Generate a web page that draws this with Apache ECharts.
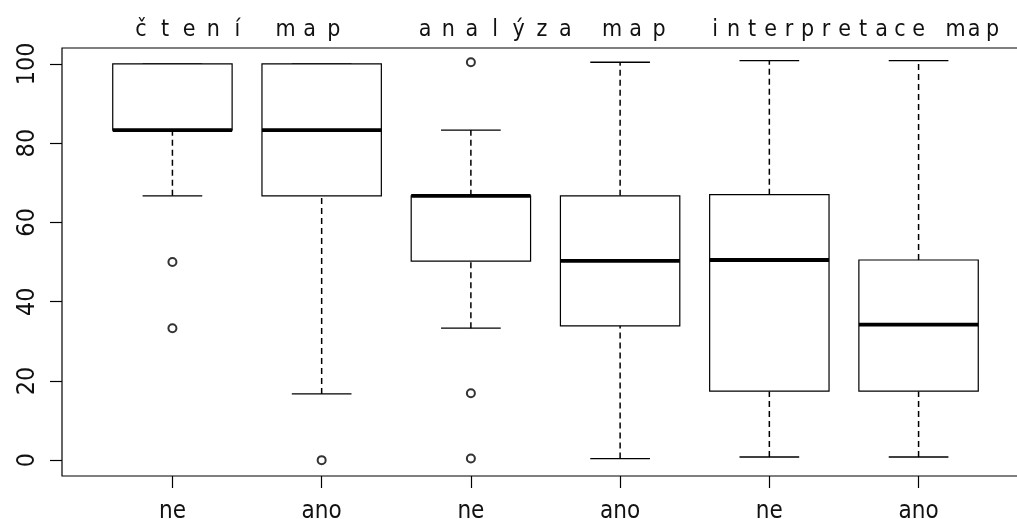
<!DOCTYPE html>
<html>
<head>
<meta charset="utf-8">
<script src="https://cdn.jsdelivr.net/npm/echarts@6/dist/echarts.min.js"></script>
<style>
html,body{margin:0;padding:0;background:#fff;}
#chart{width:1017px;height:519px;}
</style>
</head>
<body>
<div id="chart"></div>
<script>
// ---- data ----
const categories = ["ne", "ano", "ne", "ano", "ne", "ano"];
const groupTitles = ["čtení map", "analýza map", "interpretace map"];
// [lower whisker, Q1, median, Q3, upper whisker]
const boxStats = [
  [66.7, 83.3, 83.3, 100, 100],
  [16.7, 66.7, 83.3, 100, 100],
  [33.3, 50.2, 66.7, 66.7, 83.3],
  [0.4, 33.9, 50.3, 66.7, 100.4],
  [0.8, 17.4, 50.5, 67.0, 100.8],
  [0.8, 17.4, 34.2, 50.5, 100.8]
];
// outliers: [box index (1-based), value]
const outliers = [
  [1, 50], [1, 33.3],
  [2, 0],
  [3, 100.4], [3, 16.9], [3, 0.4]
];
const yTicks = [0, 20, 40, 60, 80, 100];

// ---- chart ----
const FONT = "'Liberation Sans Narrow', 'Arial Narrow', 'DejaVu Sans Condensed', sans-serif";
const chart = echarts.init(document.getElementById('chart'), null, {renderer: 'canvas'});

const boxData = boxStats.map((s, i) => [i + 1].concat(s));
const BOXW = 0.8, CAPW = 0.4;

function renderBox(params, api) {
  const x = api.value(0);
  const lo = api.value(1), q1 = api.value(2), md = api.value(3), q3 = api.value(4), hi = api.value(5);
  const pLo = api.coord([x, lo]), pQ1 = api.coord([x, q1]), pMd = api.coord([x, md]);
  const pQ3 = api.coord([x, q3]), pHi = api.coord([x, hi]);
  const bw = api.size([BOXW, 0])[0], cw = api.size([CAPW, 0])[0];
  const cx = pLo[0];
  const dash = {stroke: '#000', lineWidth: 1.5, lineDash: [6, 4]};
  const solid = {stroke: '#000', lineWidth: 1.3};
  return {
    type: 'group',
    children: [
      {type: 'line', shape: {x1: cx, y1: pQ3[1], x2: cx, y2: pHi[1]}, style: dash},
      {type: 'line', shape: {x1: cx, y1: pLo[1], x2: cx, y2: pQ1[1]}, style: dash},
      {type: 'line', shape: {x1: cx - cw / 2, y1: pHi[1], x2: cx + cw / 2, y2: pHi[1]}, style: solid},
      {type: 'line', shape: {x1: cx - cw / 2, y1: pLo[1], x2: cx + cw / 2, y2: pLo[1]}, style: solid},
      {type: 'rect', shape: {x: cx - bw / 2, y: pQ3[1], width: bw, height: pQ1[1] - pQ3[1]},
        style: {fill: '#fff', stroke: '#000', lineWidth: 1.2}},
      {type: 'line', shape: {x1: cx - bw / 2, y1: pMd[1], x2: cx + bw / 2, y2: pMd[1]},
        style: {stroke: '#000', lineWidth: 3.8}}
    ]
  };
}

// Group title letters, spaced out as in the original
const titleLayout = [
  {start: 141, pitch: 24.1},
  {start: 425, pitch: 23.4},
  {start: 715, pitch: 18.5}
];
const titleGraphics = [];
groupTitles.forEach((t, gi) => {
  const L = titleLayout[gi];
  Array.from(t).forEach((ch, ci) => {
    if (ch === ' ') return;
    titleGraphics.push({
      type: 'text',
      x: L.start + ci * L.pitch,
      y: 30,
      style: {text: ch, fill: '#111', font: '23px ' + FONT, textAlign: 'center', textVerticalAlign: 'middle'}
    });
  });
});

const option = {
  animation: false,
  backgroundColor: '#fff',
  grid: {left: 62, top: 48, bottom: 43, right: -12, outerBoundsMode: 'none', containLabel: false,
    show: true, borderColor: '#000', borderWidth: 1.2, backgroundColor: 'transparent'},
  xAxis: {
    type: 'value', min: 0.26, max: 6.74,
    splitLine: {show: false},
    axisLine: {show: false, onZero: false},
    axisTick: {show: true, customValues: [1, 2, 3, 4, 5, 6], length: 12, lineStyle: {color: '#000', width: 1.2}},
    axisLabel: {
      customValues: [1, 2, 3, 4, 5, 6],
      formatter: v => categories[Math.round(v) - 1] || '',
      color: '#111', fontSize: 24, fontFamily: FONT, margin: 24
    }
  },
  yAxis: {
    type: 'value', min: -4, max: 104,
    splitLine: {show: false},
    axisLine: {show: false, onZero: false},
    axisTick: {show: true, customValues: yTicks, length: 12, lineStyle: {color: '#000', width: 1.2}},
    axisLabel: {
      customValues: yTicks, rotate: 90,
      color: '#111', fontSize: 25, fontFamily: FONT, margin: 22
    }
  },
  graphic: titleGraphics,
  series: [
    {
      type: 'custom',
      renderItem: renderBox,
      data: boxData,
      encode: {x: 0, y: [1, 2, 3, 4, 5]},
      z: 2
    },
    {
      type: 'scatter',
      data: outliers,
      symbol: 'emptyCircle',
      symbolSize: 8,
      itemStyle: {color: '#000', borderColor: '#000', borderWidth: 1.2},
      z: 3
    }
  ]
};
chart.setOption(option);
</script>
</body>
</html>
